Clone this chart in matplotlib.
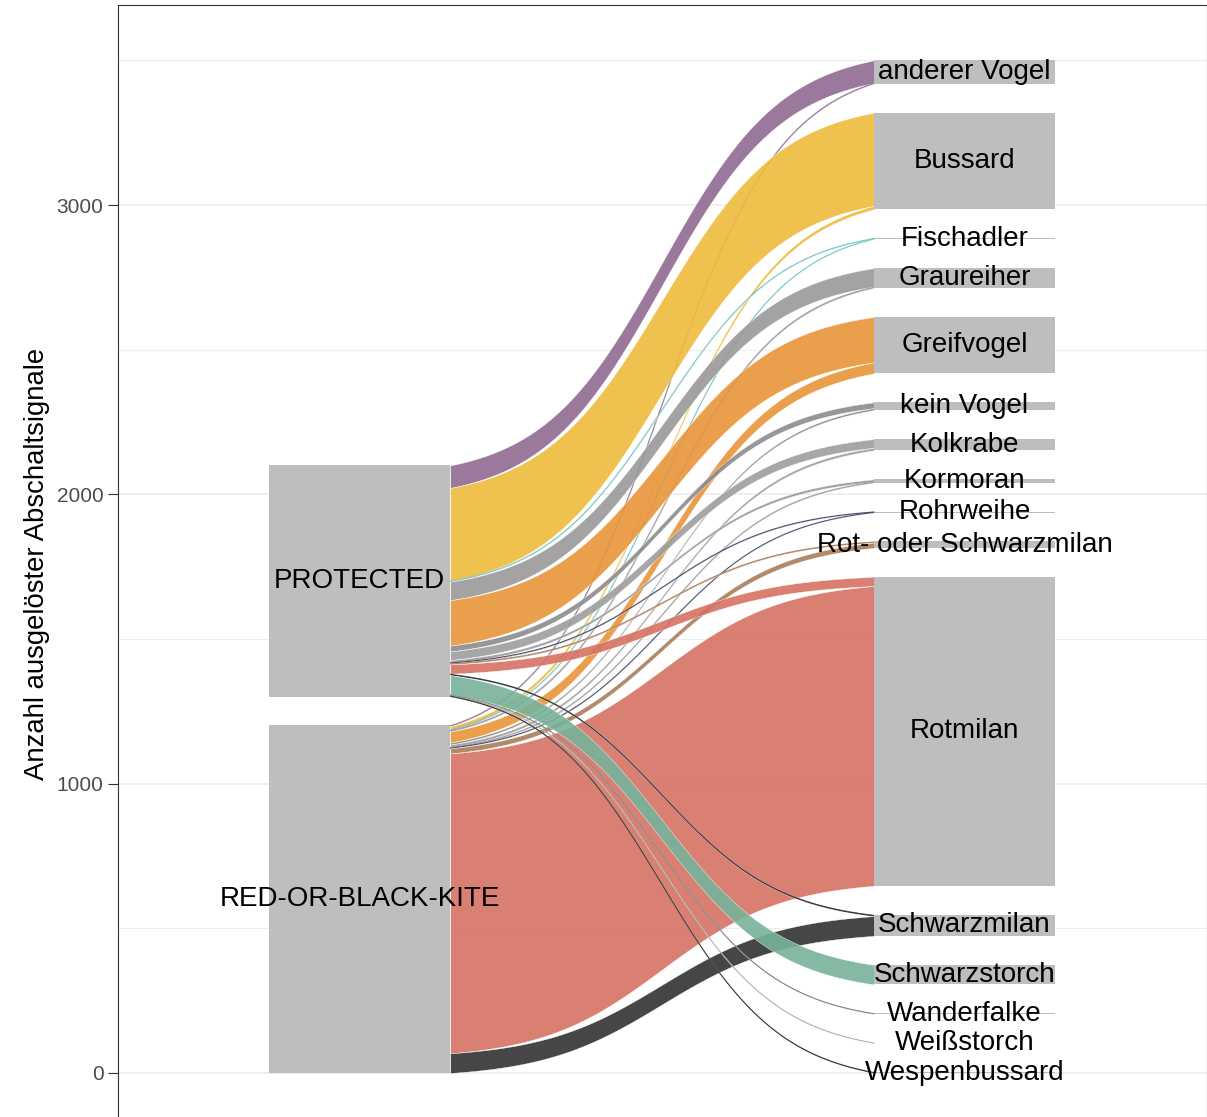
import numpy as np
import matplotlib
matplotlib.use("Agg")
import matplotlib.pyplot as plt

# Quellknoten (links) und Zielknoten (rechts), Reihenfolge von oben nach unten
quellen = ["PROTECTED", "RED-OR-BLACK-KITE"]
ziele = ["anderer Vogel", "Bussard", "Fischadler", "Graureiher", "Greifvogel",
         "kein Vogel", "Kolkrabe", "Kormoran", "Rohrweihe",
         "Rot- oder Schwarzmilan", "Rotmilan", "Schwarzmilan", "Schwarzstorch",
         "Wanderfalke", "Weißstorch", "Wespenbussard"]

# Anzahl Abschaltsignale je Fluss (Quelle -> Ziel)
von_protected = [78, 322, 2, 64, 157, 20, 30, 9, 2, 4, 32, 5, 68, 2, 1, 3]
von_red_black = [3, 12, 1, 5, 38, 7, 9, 3, 1, 18, 1036, 68, 0, 0, 0, 0]

farben = ["#8F6B93", "#EEBC3C", "#6CC0BF", "#999999", "#E8953A",
          "#8C8C8C", "#9E9E9E", "#999999", "#3B4060", "#A97D5C",
          "#D67264", "#323232", "#78B29A", "#7A7A7A", "#AAAAAA", "#2A2A2A"]

LUECKE = 100
BREITE = 0.3
SMOOTH = 3.5

plt.rcParams["font.family"] = ["Liberation Sans", "DejaVu Sans"]

fig = plt.figure(figsize=(12.07, 11.17), dpi=100)
ax = fig.add_axes([117.5 / 1207, -0.00591, 1089 / 1207, 1.00161])
ax.set_xlim(0.6, 2.4)
ax.set_ylim(-175, 3692)

flows = np.array([von_protected, von_red_black], dtype=float)

# Knotenpositionen links (von unten gestapelt)
q_tot = flows.sum(axis=1)
q_bot = np.zeros(2)
y = 0.0
for i in reversed(range(2)):
    q_bot[i] = y
    y += q_tot[i] + LUECKE

# Knotenpositionen rechts
z_tot = flows.sum(axis=0)
z_bot = np.zeros(len(ziele))
y = 0.0
for j in reversed(range(len(ziele))):
    z_bot[j] = y
    y += z_tot[j] + LUECKE

# Anfangs- und Endkoordinaten der Flüsse
start = {}
cur = q_bot + q_tot
for i in range(2):
    for j in range(len(ziele)):
        v = flows[i, j]
        start[(i, j)] = (cur[i] - v, cur[i])
        cur[i] -= v
ende = {}
cur = z_bot + z_tot
for j in range(len(ziele)):
    for i in range(2):
        v = flows[i, j]
        ende[(i, j)] = (cur[j] - v, cur[j])
        cur[j] -= v

x0 = 1 + BREITE / 2
x1 = 2 - BREITE / 2
t = np.linspace(-SMOOTH, SMOOTH, 300)
s = 1 / (1 + np.exp(-t))
s = (s - s[0]) / (s[-1] - s[0])
xs = x0 + (t + SMOOTH) / (2 * SMOOTH) * (x1 - x0)

for j in range(len(ziele)):
    for i in range(2):
        v = flows[i, j]
        if v <= 0:
            continue
        (a0, a1), (b0, b1) = start[(i, j)], ende[(i, j)]
        lo = a0 + (b0 - a0) * s
        hi = a1 + (b1 - a1) * s
        ax.fill_between(xs, lo, hi, facecolor=farben[j], alpha=0.9,
                        edgecolor="white", linewidth=0.3, zorder=2)
        if v < 6:
            ax.plot(xs, (lo + hi) / 2, color=farben[j], lw=0.8, alpha=0.9,
                    zorder=2)

# Knoten
ax.bar([1, 1], q_tot, bottom=q_bot, width=BREITE, color="#BEBEBE", zorder=3)
ax.bar([2] * len(ziele), np.maximum(z_tot, 2), bottom=z_bot, width=BREITE,
       color="#BEBEBE", zorder=3)

for i, name in enumerate(quellen):
    ax.text(1, q_bot[i] + q_tot[i] / 2, name, ha="center", va="center",
            fontsize=20, color="black", zorder=4)
for j, name in enumerate(ziele):
    ax.text(2, z_bot[j] + z_tot[j] / 2, name, ha="center", va="center",
            fontsize=20, color="black", zorder=4)

# Achsen im Stil von theme_bw
ax.set_yticks([0, 1000, 2000, 3000])
ax.set_yticks([500, 1500, 2500, 3500], minor=True)
ax.set_xticks([])
ax.grid(True, which="major", axis="y", color="#EBEBEB", lw=1.1, zorder=0)
ax.grid(True, which="minor", axis="y", color="#EBEBEB", lw=0.6, zorder=0)
ax.set_axisbelow(True)
ax.tick_params(axis="y", which="major", length=7, width=0.8, color="#333333",
               labelsize=15, labelcolor="#4D4D4D", pad=3)
ax.tick_params(axis="y", which="minor", length=0)
for sp in ax.spines.values():
    sp.set_color("#333333")
    sp.set_linewidth(0.8)
ax.set_ylabel("Anzahl ausgelöster Abschaltsignale", fontsize=19.8, labelpad=5)

fig.savefig("out.png", dpi=100)
